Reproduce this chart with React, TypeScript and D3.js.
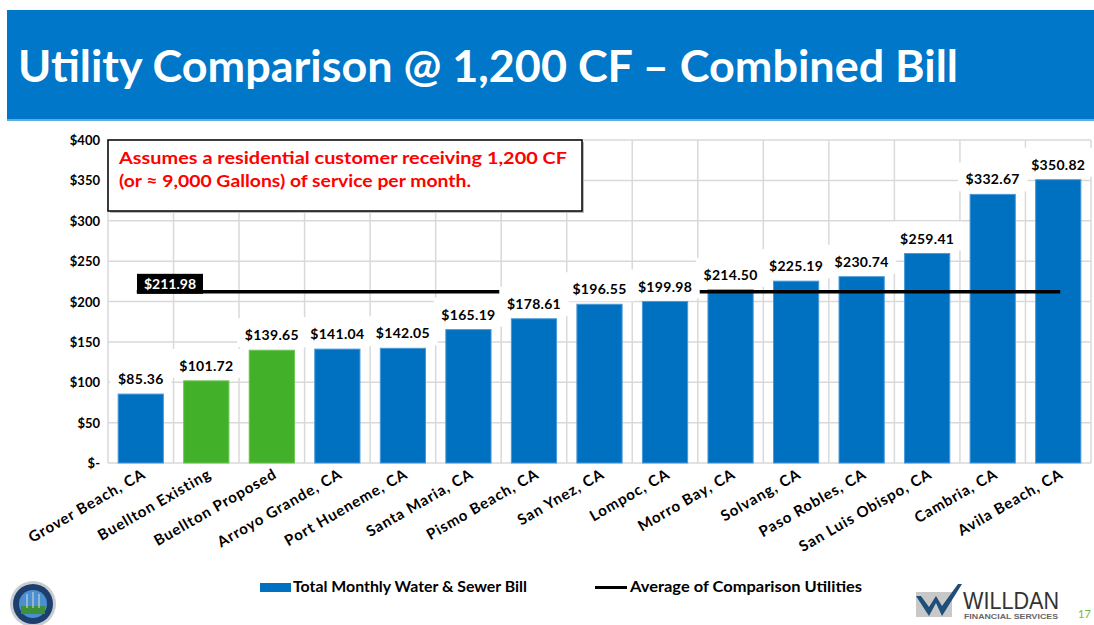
import React from "react";
import * as d3 from "d3";

const categories = [
  "Grover Beach, CA",
  "Buellton Existing",
  "Buellton Proposed",
  "Arroyo Grande, CA",
  "Port Hueneme, CA",
  "Santa Maria, CA",
  "Pismo Beach, CA",
  "San Ynez, CA",
  "Lompoc, CA",
  "Morro Bay, CA",
  "Solvang, CA",
  "Paso Robles, CA",
  "San Luis Obispo, CA",
  "Cambria, CA",
  "Avila Beach, CA",
];
const values = [85.36, 101.72, 139.65, 141.04, 142.05, 165.19, 178.61, 196.55, 199.98, 214.5, 225.19, 230.74, 259.41, 332.67, 350.82];
const highlighted = ["Buellton Existing", "Buellton Proposed"];
const averageValue = 211.98;
const yTicks = [0, 50, 100, 150, 200, 250, 300, 350, 400];

const W = 1094;
const H = 625;
const BLUE = "#0070C0";
const GREEN = "#43B02A";
const FONT = "Lato, 'Open Sans', sans-serif";

const fmt = (v: number) => "$" + d3.format(",.2f")(v);
const tickFmt = (v: number) => (v === 0 ? "$-" : "$" + v);

export default function App() {
  const x = d3.scaleBand<string>().domain(categories).range([108, 1091]).paddingInner(0.31).paddingOuter(0.155);
  const y = d3.scaleLinear().domain([0, 400]).range([463, 140]);
  const step = x.step();
  const boundaries = d3.range(categories.length + 1).map((i) => 108 + i * step);
  const cx = (c: string) => (x(c) as number) + x.bandwidth() / 2;
  const avgY = y(averageValue);
  const lineX1 = cx(categories[0]) - 4;
  const lineX2 = cx(categories[categories.length - 1]) + 2;

  return (
    <svg width={W} height={H} style={{ position: "absolute", left: 0, top: 0, background: "#fff" }} fontFamily={FONT}>
      {/* Banner */}
      <rect x={7} y={10} width={W - 7} height={110} fill="#0077C8" />
      <rect x={7} y={119} width={W - 7} height={2} fill="#5DADE2" />
      <text x={18} y={82} fill="#fff" fontSize={43} fontWeight={700} textLength={940} lengthAdjust="spacingAndGlyphs">
        Utility Comparison @ 1,200 CF – Combined Bill
      </text>

      {/* Grid */}
      {yTicks.map((t) => (
        <line key={"h" + t} x1={108} x2={1091} y1={y(t)} y2={y(t)} stroke="#d9d9d9" strokeWidth={1.5} />
      ))}
      {boundaries.map((b, i) => (
        <line key={"v" + i} x1={b} x2={b} y1={140} y2={463} stroke="#d9d9d9" strokeWidth={1.5} />
      ))}

      {/* Y tick labels */}
      {yTicks.map((t) => (
        <text key={"yt" + t} x={100} y={y(t) + 5} textAnchor="end" fontSize={13} fontWeight={700} fill="#000">
          {tickFmt(t)}
        </text>
      ))}

      {/* Bars */}
      {categories.map((c, i) => (
        <rect
          key={"b" + c}
          x={x(c)}
          y={y(values[i])}
          width={x.bandwidth()}
          height={y(0) - y(values[i])}
          fill={highlighted.includes(c) ? GREEN : BLUE}
          stroke={highlighted.includes(c) ? "#6cc455" : "#4a9ad8"}
          strokeWidth={1}
        />
      ))}

      {/* Average line */}
      <line x1={lineX1} x2={lineX2} y1={avgY} y2={avgY} stroke="#000" strokeWidth={3.5} />
      <rect x={137} y={avgY - 18} width={66} height={20} fill="#000" />
      <text x={170} y={avgY - 3} textAnchor="middle" fontSize={14} fontWeight={700} fill="#fff">
        {fmt(averageValue)}
      </text>

      {/* Data labels */}
      {categories.map((c, i) => {
        const label = fmt(values[i]);
        const w = label.length * 8.2 + 12;
        const by = y(values[i]) - 10;
        return (
          <g key={"l" + c}>
            <rect x={cx(c) - w / 2} y={by - 22} width={w} height={29} fill="#fff" />
            <text x={cx(c)} y={by} textAnchor="middle" fontSize={14} fontWeight={700} fill="#000" letterSpacing={0.3}>
              {label}
            </text>
          </g>
        );
      })}

      {/* X labels */}
      {categories.map((c) => (
        <text
          key={"x" + c}
          transform={`translate(${cx(c) + 6},${477}) rotate(-30)`}
          textAnchor="end"
          fontSize={15}
          fontWeight={700}
          fill="#000"
          letterSpacing={0.9}
        >
          {c}
        </text>
      ))}

      {/* Annotation */}
      <rect x={110} y={142} width={474} height={71} fill="#bbb" />
      <rect x={108} y={140} width={474} height={71} fill="#fff" stroke="#000" strokeWidth={1.5} />
      <text x={119} y={164} fontSize={17} fontWeight={700} fill="#FF0000" textLength={448} lengthAdjust="spacingAndGlyphs">
        Assumes a residential customer receiving 1,200 CF
      </text>
      <text x={119} y={187} fontSize={17} fontWeight={700} fill="#FF0000" textLength={352} lengthAdjust="spacingAndGlyphs">
        (or ≈ 9,000 Gallons) of service per month.
      </text>

      {/* Legend */}
      <rect x={260} y={583} width={31} height={9} fill={BLUE} />
      <text x={293} y={592} fontSize={14.5} fontWeight={700} fill="#000" textLength={234} lengthAdjust="spacingAndGlyphs">
        Total Monthly Water &amp; Sewer Bill
      </text>
      <line x1={595} x2={627} y1={587.5} y2={587.5} stroke="#000" strokeWidth={3} />
      <text x={630} y={592} fontSize={14.5} fontWeight={700} fill="#000" textLength={232} lengthAdjust="spacingAndGlyphs">
        Average of Comparison Utilities
      </text>

      {/* Seal logo */}
      <g>
        <circle cx={33} cy={604} r={23} fill="#c9cdd2" />
        <circle cx={33} cy={604} r={20} fill="#1d3f6e" />
        <circle cx={33} cy={604} r={14} fill="#4a8fcf" />
        <rect x={21} y={606} width={24} height={8} fill="#3f8f3a" />
        <line x1={27} x2={27} y1={594} y2={608} stroke="#ddd" strokeWidth={1} />
        <line x1={33} x2={33} y1={592} y2={608} stroke="#ddd" strokeWidth={1} />
        <line x1={39} x2={39} y1={594} y2={608} stroke="#ddd" strokeWidth={1} />
      </g>

      {/* Willdan logo */}
      <g>
        <rect x={916} y={592} width={36} height={25} fill="#c8c8c8" />
        <path d="M916 596 L929 616 L936 603 L942 616 L962 584 L958 584 L942 606 L936 596 L929 607 L921 596 Z" fill="#1f4e79" />
        <text x={963} y={609} fontSize={24} fill="#333" fontFamily="'Liberation Sans', Arial, sans-serif" textLength={96} lengthAdjust="spacingAndGlyphs">
          WILLDAN
        </text>
        <text x={964} y={619} fontSize={7.5} fontWeight={700} fill="#666" fontFamily="'Liberation Sans', Arial, sans-serif" textLength={94} lengthAdjust="spacingAndGlyphs">
          FINANCIAL SERVICES
        </text>
      </g>
      <text x={1078} y={618} fontSize={11} fill="#6dbb45">
        17
      </text>
    </svg>
  );
}
